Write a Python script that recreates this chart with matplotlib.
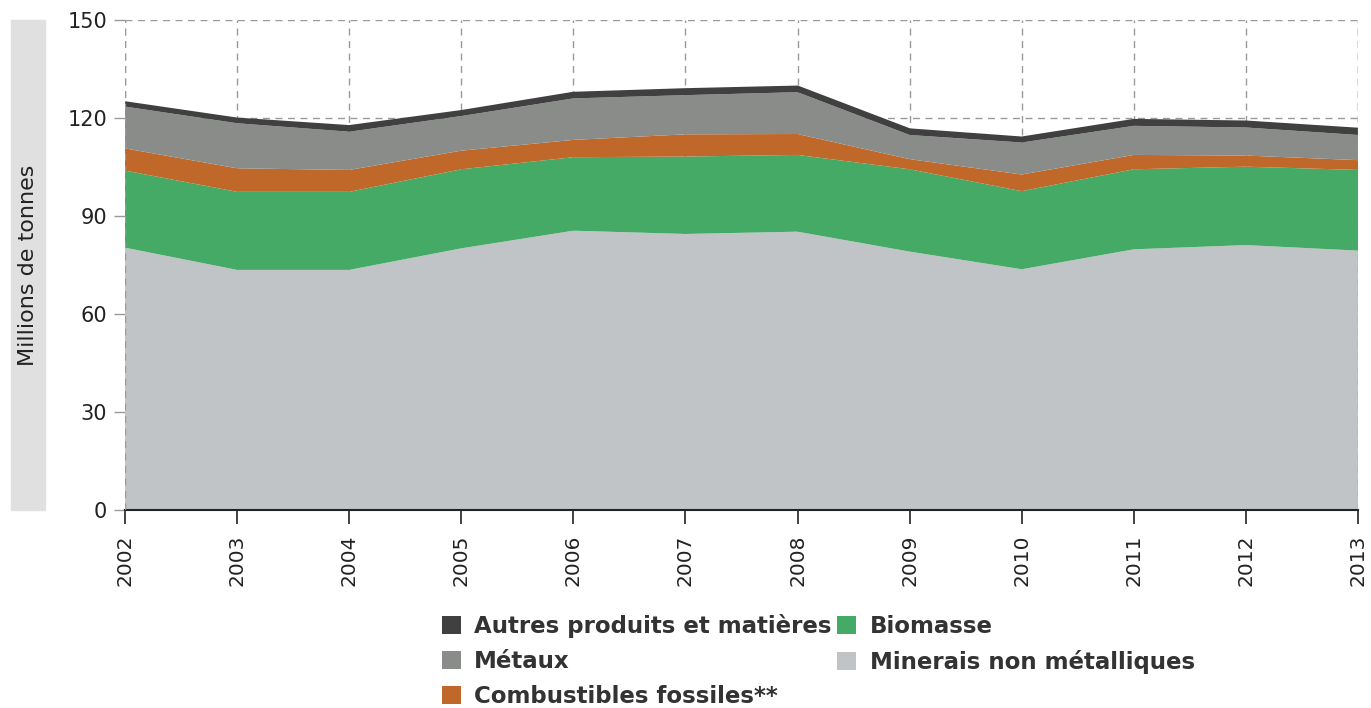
import matplotlib.pyplot as plt
from matplotlib.patches import Patch, Rectangle

years = [2002, 2003, 2004, 2005, 2006, 2007, 2008, 2009, 2010, 2011, 2012, 2013]

# valeurs (millions de tonnes)
minerais = [80.3, 73.5, 73.5, 80.1, 85.5, 84.5, 85.2, 79.1, 73.7, 79.8, 81.1, 79.4]
biomasse = [23.6, 23.9, 23.9, 24.2, 22.5, 23.7, 23.5, 25.2, 23.9, 24.5, 24.0, 24.7]
fossiles = [6.8, 7.2, 6.7, 5.7, 5.3, 6.8, 6.4, 3.1, 5.1, 4.4, 3.4, 3.0]
metaux = [12.8, 13.8, 11.7, 10.6, 12.7, 12.0, 12.8, 7.4, 9.8, 8.9, 8.6, 7.7]
autres = [1.1, 1.2, 1.5, 1.3, 1.5, 1.6, 1.5, 1.5, 1.3, 1.6, 1.6, 1.7]

labels = ['Minerais non métalliques', 'Biomasse', 'Combustibles fossiles**',
          'Métaux', 'Autres produits et matières']
colors = ['#c0c4c7', '#44aa66', '#c0672a', '#8a8c89', '#404040']

fig = plt.figure(figsize=(13.71, 7.08), dpi=100)
ax = fig.add_axes([125/1371, 1-510/708, (1358-125)/1371, 490/708])

ax.stackplot(years, minerais, biomasse, fossiles, metaux, autres,
             colors=colors, linewidth=0, zorder=2)
# trait sombre sur le dessus
tops = [a+b+c+d+e for a, b, c, d, e in zip(minerais, biomasse, fossiles, metaux, autres)]
ax.plot(years, tops, color='#404040', lw=2.5, zorder=3, solid_capstyle='butt')

ax.set_xlim(2002, 2013)
ax.set_ylim(0, 150)
ax.set_yticks([0, 30, 60, 90, 120, 150])
ax.set_xticks(years)
ax.set_xticklabels([str(y) for y in years], rotation=90)
ax.tick_params(axis='y', labelsize=15, colors='#999999', labelcolor='#222222',
               length=8, width=1, pad=5)
ax.tick_params(axis='x', labelsize=14.5, colors='#222222', labelcolor='#222222',
               length=10, width=1.2, pad=8)

ax.grid(True, color='#999999', linestyle=(0, (5, 4)), linewidth=1, zorder=1)
ax.set_axisbelow(True)
for s in ['top', 'right', 'left']:
    ax.spines[s].set_visible(False)
ax.spines['bottom'].set_color('#222222')
ax.spines['bottom'].set_linewidth(1.5)
# bords gauche/droit en pointillés par-dessus les aires
for xe in (years[0], years[-1]):
    ax.axvline(xe, color='#999999', linestyle=(0, (5, 4)), linewidth=1, zorder=4)

# étiquette de l'axe y sur fond gris
fig.patches.append(Rectangle((11/1371, 1-510/708), 34/1371, 490/708,
                             transform=fig.transFigure, color='#e0e0e0', zorder=0))
fig.text(28/1371, 1-265/708, 'Millions de tonnes', rotation=90, ha='center',
         va='center', fontsize=16, color='#222222')

order = [4, 3, 2, 1, 0]
handles = [Patch(facecolor=colors[i], label=labels[i]) for i in order]
fig.legend(handles=handles, ncol=2, loc='upper left', bbox_to_anchor=(433/1371, 1-605/708),
           frameon=False, prop={'weight': 'bold', 'size': 16.5}, labelcolor='#333333',
           handlelength=0.8, handleheight=0.8, handletextpad=0.6, columnspacing=0.25,
           labelspacing=0.52, borderaxespad=0)

fig.savefig('out.png', dpi=100)
